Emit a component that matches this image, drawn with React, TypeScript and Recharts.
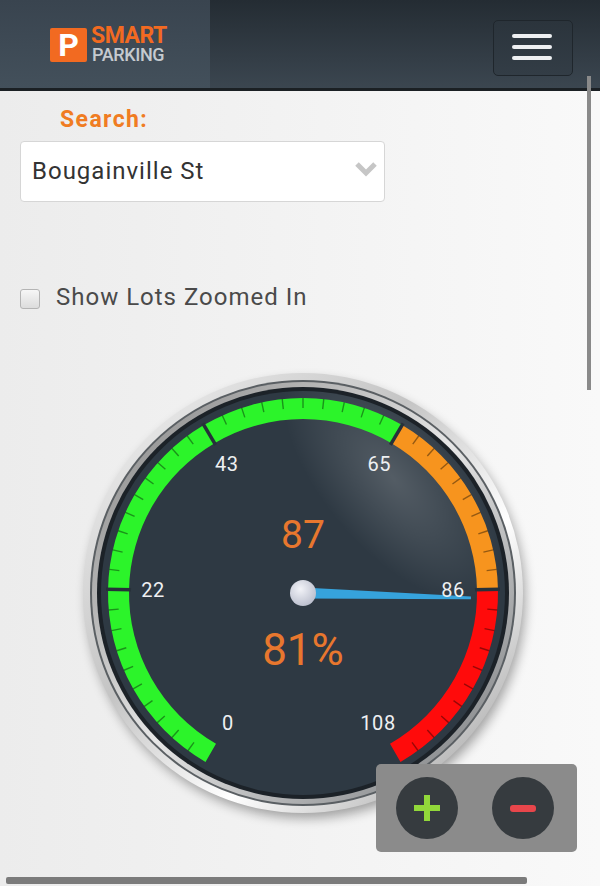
import React from 'react'
import { RadialBarChart, RadialBar, PolarAngleAxis, PolarRadiusAxis, Sector } from 'recharts'

// gauge scale (lots)
const scaleMin = 0
const scaleMax = 108
const majorTicks = [0, 22, 43, 65, 86, 108]
const minorSteps = 10

// colour zones, each ends at a major tick
const zoneEnds = [22, 43, 65, 86, 108]
const zoneColors = ['#2cf42a', '#2cf42a', '#2cf42a', '#f7941e', '#ff0b0b']

const occupiedLots = 87
const occupancyPct = Math.round((occupiedLots / scaleMax) * 100)

const zoneKeys = zoneEnds.map((_, i) => `zone${i}`)

const needleRow: Record<string, any> = { name: 'needle', needle: occupiedLots }
const zoneRow: Record<string, any> = { name: 'zones', needle: 0 }
zoneEnds.forEach((end, i) => {
  const start = i === 0 ? scaleMin : zoneEnds[i - 1]
  zoneRow[zoneKeys[i]] = end - start
  needleRow[zoneKeys[i]] = 0
})
const gaugeData = [needleRow, zoneRow]

const angleTicks: number[] = []
majorTicks.forEach((t, i) => {
  angleTicks.push(t)
  if (i < majorTicks.length - 1) {
    const next = majorTicks[i + 1]
    for (let j = 1; j < minorSteps; j++) angleTicks.push(t + ((next - t) * j) / minorSteps)
  }
})

const CX = 230
const CY = 230
const FONT = 'Roboto, "Noto Sans", sans-serif'

function GaugeTick(props: any) {
  const { payload } = props
  const a = (payload.coordinate * Math.PI) / 180
  const pt = (r: number) => [CX + r * Math.cos(a), CY - r * Math.sin(a)]
  if (majorTicks.includes(payload.value)) {
    const [x1, y1] = pt(172)
    const [x2, y2] = pt(197)
    const [tx, ty] = pt(150)
    const isEnd = payload.value === scaleMin || payload.value === scaleMax
    return (
      <g>
        {!isEnd && <line x1={x1} y1={y1} x2={x2} y2={y2} stroke="#27313a" strokeWidth={3.5} />}
        <text x={tx} y={ty} textAnchor="middle" dominantBaseline="central" fill="#eef0f2"
          fontSize={20} fontFamily={FONT} letterSpacing={0.6}>
          {payload.value}
        </text>
      </g>
    )
  }
  const [x1, y1] = pt(185)
  const [x2, y2] = pt(195)
  return <line x1={x1} y1={y1} x2={x2} y2={y2} stroke="rgba(0,0,0,0.4)" strokeWidth={1.4} />
}

function ZoneShape(props: any) {
  const { cx, cy, innerRadius, outerRadius, startAngle, endAngle, fill } = props
  if (Math.abs(endAngle - startAngle) < 0.01) return null
  return (
    <Sector cx={cx} cy={cy} innerRadius={innerRadius} outerRadius={outerRadius}
      startAngle={startAngle} endAngle={endAngle} fill={fill} />
  )
}

function NeedleShape(props: any) {
  const { cx, cy, startAngle, endAngle } = props
  if (Math.abs(endAngle - startAngle) < 0.01) return null
  const a = (endAngle * Math.PI) / 180
  const ux = Math.cos(a)
  const uy = -Math.sin(a)
  const px = -uy
  const py = ux
  const len = 168
  const base = 5.5
  const tip = 1.3
  const pts = [
    [cx + px * base, cy + py * base],
    [cx + ux * len + px * tip, cy + uy * len + py * tip],
    [cx + ux * len - px * tip, cy + uy * len - py * tip],
    [cx - px * base, cy - py * base],
  ]
  return (
    <g>
      <polygon points={pts.map((p) => p.join(',')).join(' ')} fill="#36a3dc" />
      <circle cx={cx} cy={cy} r={13} fill="url(#knobFill)" />
    </g>
  )
}

function GaugeBack() {
  const c = 260
  return (
    <svg width={520} height={520} style={{ position: 'absolute', left: 43, top: 333 }}>
      <defs>
        <filter id="ringShadow" x="-20%" y="-20%" width="140%" height="140%">
          <feGaussianBlur stdDeviation="6" />
        </filter>
        <linearGradient id="chromeA" x1="0" y1="0" x2="1" y2="1">
          <stop offset="0%" stopColor="#f6f6f6" />
          <stop offset="40%" stopColor="#c4c4c4" />
          <stop offset="65%" stopColor="#ffffff" />
          <stop offset="100%" stopColor="#8e8e8e" />
        </linearGradient>
        <linearGradient id="chromeB" x1="0" y1="0" x2="1" y2="1">
          <stop offset="0%" stopColor="#7d7d7d" />
          <stop offset="50%" stopColor="#e6e6e6" />
          <stop offset="100%" stopColor="#6f7275" />
        </linearGradient>
        <radialGradient id="glare" cx="0.5" cy="0.5" r="0.5">
          <stop offset="0%" stopColor="#ffffff" stopOpacity={0.18} />
          <stop offset="100%" stopColor="#ffffff" stopOpacity={0} />
        </radialGradient>
        <clipPath id="faceClip">
          <circle cx={c} cy={c} r={202} />
        </clipPath>
      </defs>
      <circle cx={c + 3} cy={c + 6} r={219} fill="#000" opacity={0.35} filter="url(#ringShadow)" />
      <circle cx={c} cy={c} r={220} fill="url(#chromeA)" />
      <circle cx={c} cy={c} r={213} fill="#5a5f63" />
      <circle cx={c} cy={c} r={211} fill="url(#chromeB)" />
      <circle cx={c} cy={c} r={206} fill="#1c2228" />
      <circle cx={c} cy={c} r={202} fill="#2e3943" />
      <g clipPath="url(#faceClip)">
        <ellipse cx={c + 90} cy={c - 115} rx={150} ry={70} fill="url(#glare)"
          transform={`rotate(50 ${c + 90} ${c - 115})`} />
      </g>
      <text x={c} y={c - 45} textAnchor="middle" fill="#e8772e" fontSize={39} fontFamily={FONT}>
        {occupiedLots}
      </text>
      <text x={c} y={c + 72} textAnchor="middle" fill="#e8772e" fontSize={44} fontFamily={FONT}>
        {occupancyPct}%
      </text>
    </svg>
  )
}

function Gauge() {
  return (
    <div style={{ position: 'absolute', left: 73, top: 363, width: 460, height: 460 }}>
      <RadialBarChart width={460} height={460} cx={CX} cy={CY} innerRadius={153} outerRadius={195}
        startAngle={240} endAngle={-60} data={gaugeData} barCategoryGap={0} barGap={0}
        margin={{ top: 0, right: 0, bottom: 0, left: 0 }}>
        <defs>
          <radialGradient id="knobFill" cx="0.4" cy="0.35" r="0.7">
            <stop offset="0%" stopColor="#f2f3f8" />
            <stop offset="100%" stopColor="#b9bdcc" />
          </radialGradient>
        </defs>
        <PolarRadiusAxis type="category" dataKey="name" tick={false} axisLine={false} />
        <RadialBar dataKey="needle" stackId="g" shape={NeedleShape} isAnimationActive={false} />
        {zoneKeys.map((k, i) => (
          <RadialBar key={k} dataKey={k} stackId="g" fill={zoneColors[i]} shape={ZoneShape}
            isAnimationActive={false} />
        ))}
        <PolarAngleAxis type="number" domain={[scaleMin, scaleMax]} ticks={angleTicks} tick={GaugeTick}
          tickLine={false} axisLine={false} />
      </RadialBarChart>
    </div>
  )
}

export default function App() {
  return (
    <div style={{ position: 'absolute', left: 0, top: 0, width: 600, height: 886, overflow: 'hidden',
      background: 'linear-gradient(90deg, #ececec, #f9f9f9)', fontFamily: FONT }}>
      {/* header */}
      <div style={{ position: 'absolute', left: 0, top: 0, width: 600, height: 88,
        background: 'linear-gradient(#242c33, #3b4650)' }} />
      <div style={{ position: 'absolute', left: 0, top: 0, width: 210, height: 88,
        background: 'linear-gradient(#39444f, #43505b)' }} />
      <div style={{ position: 'absolute', left: 0, top: 88, width: 600, height: 3, background: '#1b2024' }} />
      <div style={{ position: 'absolute', left: 50, top: 28, width: 37, height: 34, background: '#f26a21',
        borderRadius: 2, color: '#fff', fontWeight: 700, fontSize: 32, lineHeight: '34px', textAlign: 'center' }}>P</div>
      <div style={{ position: 'absolute', left: 91, top: 27, color: '#f26a21', fontWeight: 700, fontSize: 23,
        lineHeight: '18px', letterSpacing: -0.5 }}>SMART</div>
      <div style={{ position: 'absolute', left: 92, top: 48, color: '#c5cacf', fontWeight: 500, fontSize: 18,
        lineHeight: '14px', letterSpacing: -0.4 }}>PARKING</div>
      <div style={{ position: 'absolute', left: 493, top: 20, width: 78, height: 54, borderRadius: 5,
        border: '1px solid #1f262c', background: 'linear-gradient(#2b343c, #333d46)' }} />
      {[34, 45, 56].map((t) => (
        <div key={t} style={{ position: 'absolute', left: 512, top: t, width: 40, height: 4, borderRadius: 2,
          background: '#eef0f2' }} />
      ))}
      <div style={{ position: 'absolute', left: 587, top: 76, width: 4, height: 314, background: '#8a8a8a' }} />

      {/* search */}
      <div style={{ position: 'absolute', left: 60, top: 108, color: '#f07c22', fontWeight: 700, fontSize: 23,
        lineHeight: '23px', letterSpacing: 1.4 }}>Search:</div>
      <div style={{ position: 'absolute', left: 20, top: 141, width: 363, height: 59, background: '#fff',
        border: '1px solid #d6d6d6', borderRadius: 4 }} />
      <div style={{ position: 'absolute', left: 32, top: 159, color: '#333', fontSize: 24, lineHeight: '24px',
        letterSpacing: 1 }}>Bougainville St</div>
      <svg width={30} height={20} style={{ position: 'absolute', left: 352, top: 160 }}>
        <polyline points="5,4 14,13 23,4" fill="none" stroke="#c6c6c6" strokeWidth={5} />
      </svg>

      <div style={{ position: 'absolute', left: 20, top: 289, width: 18, height: 18, borderRadius: 3,
        border: '1px solid #b4b4b4', background: 'linear-gradient(#f6f6f6, #dcdcdc)' }} />
      <div style={{ position: 'absolute', left: 56, top: 285, color: '#4a4a4a', fontSize: 24, lineHeight: '24px',
        letterSpacing: 1 }}>Show Lots Zoomed In</div>

      <GaugeBack />
      <Gauge />

      {/* zoom control */}
      <div style={{ position: 'absolute', left: 376, top: 764, width: 201, height: 88, background: '#8b8b8b',
        borderRadius: 5 }} />
      <div style={{ position: 'absolute', left: 396, top: 777, width: 62, height: 62, borderRadius: 31,
        background: '#363b3f' }} />
      <div style={{ position: 'absolute', left: 492, top: 777, width: 62, height: 62, borderRadius: 31,
        background: '#363b3f' }} />
      <div style={{ position: 'absolute', left: 414, top: 805, width: 26, height: 6, background: '#92d83a' }} />
      <div style={{ position: 'absolute', left: 424, top: 795, width: 6, height: 26, background: '#92d83a' }} />
      <div style={{ position: 'absolute', left: 510, top: 805, width: 26, height: 7, borderRadius: 3,
        background: '#e8464b' }} />

      <div style={{ position: 'absolute', left: 6, top: 877, width: 521, height: 7, borderRadius: 2,
        background: '#7b7b7b' }} />
    </div>
  )
}
